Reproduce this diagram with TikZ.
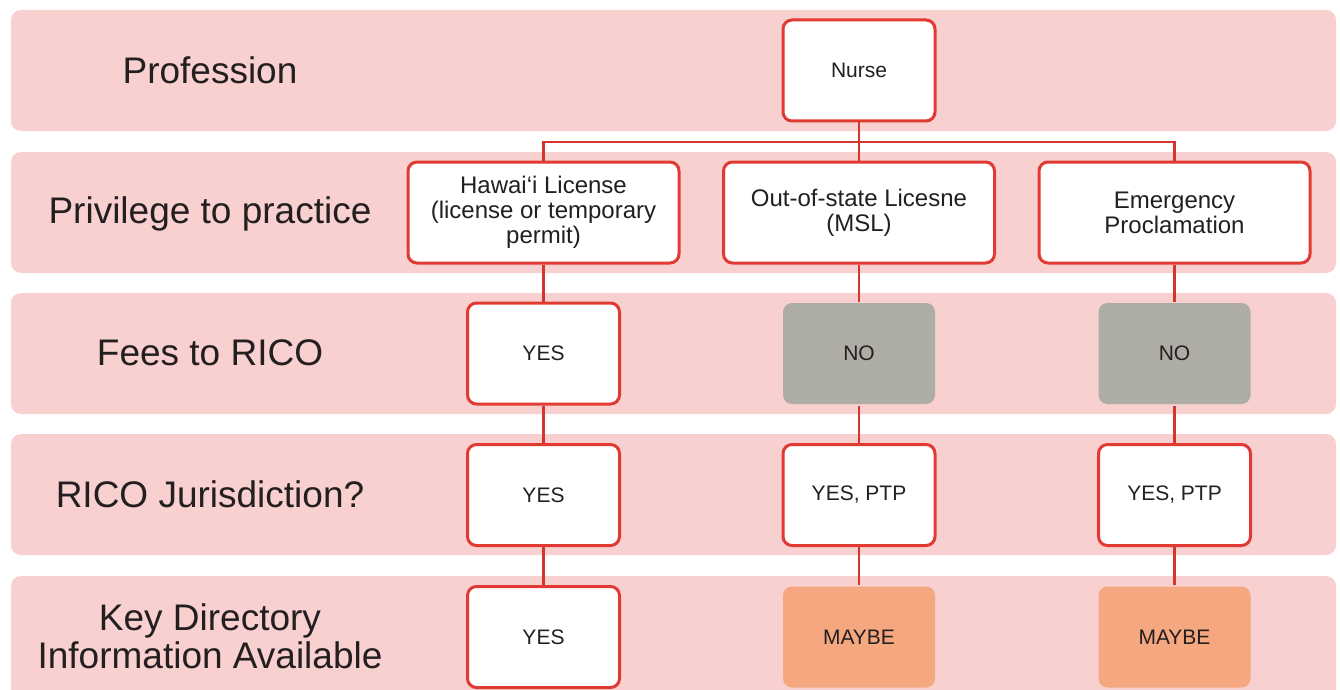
\documentclass[tikz,border=0pt]{standalone}
\usepackage{fontspec}
\setmainfont{Liberation Sans}
\definecolor{band}{HTML}{F8D0CF}
\definecolor{boxred}{HTML}{E03A33}
\definecolor{linered}{HTML}{D3362F}
\definecolor{nogray}{HTML}{ADADA5}
\definecolor{maybe}{HTML}{F5A77F}
\definecolor{txt}{HTML}{231F20}
\begin{document}
\begin{tikzpicture}[x=1pt,y=-1pt,
  rowlabel/.style={text=txt,font=\fontsize{37}{38}\selectfont,align=center,inner sep=0pt},
  wbox/.style={draw=boxred,line width=3pt,fill=white,rounded corners=9pt,text=txt,
     font=\fontsize{21}{25}\selectfont,align=center,inner sep=0pt},
  smallbox/.style={wbox,minimum width=152pt,minimum height=101pt},
  widebox/.style={wbox,minimum width=271pt,minimum height=101pt,font=\fontsize{24}{25}\selectfont},
  graybox/.style={smallbox,draw=none,fill=nogray},
  orangebox/.style={smallbox,draw=none,fill=maybe},
  conn/.style={draw=linered,line width=2.5pt}]
\useasboundingbox (0,0) rectangle (1340,690);
% bands
\foreach \t/\b in {10/131,152/273,293/414,434/555,576/710}{
  \fill[band,rounded corners=10pt] (11,\t) rectangle (1336,\b);
}
% row labels
\node[rowlabel] (l1) at (210,70) {Profession};
\node[rowlabel] (l2) at (210,213.5) {Privilege to practice};
\node[rowlabel] (l3) at (210,353) {Fees to RICO};
\node[rowlabel] (l4) at (210,494) {RICO Jurisdiction?};
\node[rowlabel] (l5) at (210,636) {Key Directory\\Information Available};
% boxes
\node[smallbox] (nurse) at (859,70.5) {Nurse};
\node[widebox] (haw) at (543.5,212.5) {Hawai‘i License\\(license or temporary\\permit)};
\node[widebox] (oos) at (859,212.5) {Out-of-state Licesne\\(MSL)};
\node[widebox] (emg) at (1174.5,212.5) {Emergency\\Proclamation};
\node[smallbox] (f1) at (543.5,353.5) {YES};
\node[graybox] (f2) at (859,353.5) {NO};
\node[graybox] (f3) at (1174.5,353.5) {NO};
\node[smallbox] (j1) at (543.5,495) {YES};
\node[smallbox] (j2) at (859,495) {YES, PTP};
\node[smallbox] (j3) at (1174.5,495) {YES, PTP};
\node[smallbox] (k1) at (543.5,637) {YES};
\node[orangebox] (k2) at (859,637) {MAYBE};
\node[orangebox] (k3) at (1174.5,637) {MAYBE};
% connectors
\coordinate (split) at (859,142);
\draw[conn] (nurse.south) -- (split);
\draw[conn] (split) -| (haw.north);
\draw[conn] (split) -| (emg.north);
\draw[conn] (split) -- (oos.north);
\draw[conn] (haw.south) -- (f1.north);
\draw[conn] (oos.south) -- (f2.north);
\draw[conn] (emg.south) -- (f3.north);
\draw[conn] (f1.south) -- (j1.north);
\draw[conn] (f2.south) -- (j2.north);
\draw[conn] (f3.south) -- (j3.north);
\draw[conn] (j1.south) -- (k1.north);
\draw[conn] (j2.south) -- (k2.north);
\draw[conn] (j3.south) -- (k3.north);
\end{tikzpicture}
\end{document}
